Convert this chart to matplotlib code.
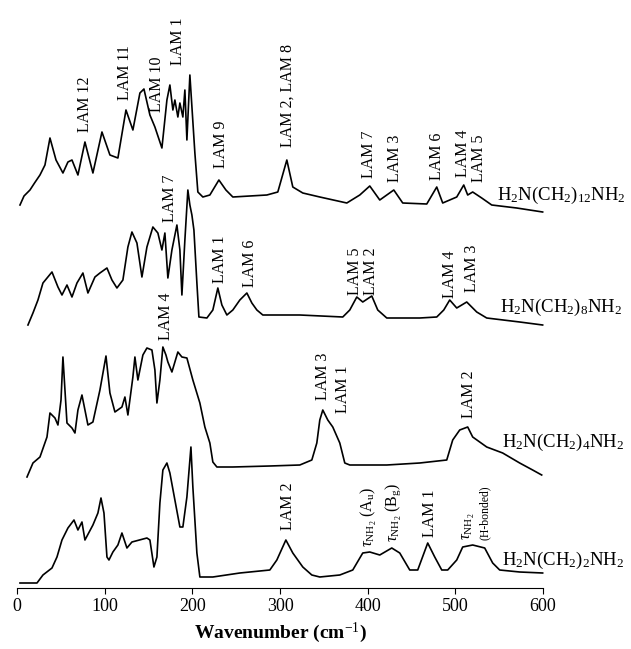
import matplotlib
matplotlib.use("Agg")
import matplotlib.pyplot as plt

plt.rcParams['font.family'] = ['Liberation Serif', 'DejaVu Serif']
plt.rcParams['mathtext.fontset'] = 'custom'
plt.rcParams['mathtext.rm'] = 'Liberation Serif'
plt.rcParams['mathtext.it'] = 'Liberation Serif:italic'

# spectra (wavenumber, offset intensity)
wn_c12 = [3.4, 8.0, 14.8, 20.0, 26.2, 31.9, 37.6, 44.5, 52.4, 58.1, 62.7, 69.5, 77.5, 86.6, 96.9, 106.0,
          115.1, 124.3, 132.2, 140.2, 144.8, 151.6, 157.3, 165.3, 171.0, 174.4, 177.8, 180.1,
          183.5, 185.8, 189.2, 191.5, 193.8, 197.2, 202.9, 206.3, 212.0, 220.0, 230.3, 238.3,
          246.2, 285.0, 297.5, 307.8, 314.6, 326.0, 345.4, 376.2, 391.0, 402.4, 413.8, 429.8,
          440.0, 467.4, 478.8, 485.6, 501.6, 509.6, 514.1, 519.8, 530.1, 541.5, 570.0, 599.6]
int_c12 = [383, 392, 398, 405, 413, 423, 450, 428, 415, 426, 428, 413, 446, 415, 456, 433,
           430, 478, 458, 495, 499, 473, 461, 440, 488, 503, 478, 488,
           471, 485, 471, 498, 448, 513, 435, 396, 391, 393, 408, 398,
           391, 393, 396, 428, 401, 395, 391, 385, 393, 402, 388, 398,
           385, 384, 401, 385, 391, 403, 393, 396, 390, 383, 380, 376]

wn_c8 = [12.5, 18.2, 23.9, 29.6, 39.9, 46.7, 51.3, 57.0, 62.7, 68.4, 75.2, 80.9, 88.9, 94.6,
         102.6, 108.3, 114.0, 120.8, 126.5, 131.1, 136.8, 142.5, 148.2, 155.0, 160.7, 165.3,
         168.7, 172.1, 176.7, 182.4, 185.8, 188.1, 191.5, 194.9, 197.2, 199.5, 201.8, 205.2,
         207.5, 216.6, 223.4, 229.1, 233.7, 239.4, 246.2, 254.2, 262.2, 267.9, 273.6, 280.4,
         322.6, 371.6, 379.6, 387.6, 394.4, 404.7, 411.5, 421.8, 459.4, 478.8, 486.8, 493.6,
         501.6, 513.0, 524.4, 535.8, 573.4, 599.6]
int_c8 = [263, 275, 288, 305, 316, 301, 293, 303, 291, 305, 315, 295, 311, 315,
          320, 308, 300, 308, 341, 356, 345, 311, 341, 361, 355, 338,
          355, 310, 338, 363, 338, 293, 348, 398, 383, 373, 358, 305,
          271, 270, 278, 300, 283, 273, 278, 288, 295, 285, 278, 273,
          273, 271, 278, 291, 286, 292, 278, 270, 270, 271, 278, 288,
          280, 286, 276, 270, 266, 263]

wn_c4 = [11.4, 18.2, 26.2, 34.2, 37.6, 43.3, 46.7, 50.2, 52.4, 54.7, 57.0, 62.7, 66.1, 69.5,
         74.1, 77.5, 80.9, 86.6, 94.6, 101.5, 106.0, 111.7, 119.7, 123.1, 126.5, 132.2,
         134.5, 137.9, 143.6, 148.2, 153.9, 157.3, 159.6, 163.0, 166.4, 169.9, 172.1, 176.7,
         183.5, 188.1, 193.8, 200.6, 208.6, 214.3, 220.0, 223.4, 228.0, 246.2, 288.4, 322.6,
         336.3, 342.0, 345.4, 348.8, 354.5, 360.2, 368.2, 373.9, 379.6, 421.8, 459.4, 490.2,
         497.0, 505.0, 514.1, 519.8, 535.8, 554.0, 573.4, 588.2, 598.5]
int_c4 = [111, 125, 131, 151, 175, 170, 163, 188, 231, 198, 165, 160, 155, 178,
          193, 178, 163, 166, 198, 232, 195, 176, 181, 191, 173, 211,
          231, 208, 233, 240, 238, 218, 185, 208, 241, 233, 226, 216,
          236, 231, 230, 208, 185, 161, 145, 126, 121, 121, 122, 123,
          128, 145, 168, 178, 168, 161, 145, 125, 123, 123, 125, 128,
          148, 158, 161, 151, 141, 135, 125, 118, 113]

wn_c2 = [3.4, 22.8, 29.6, 39.9, 45.6, 51.3, 58.1, 65.0, 69.5, 74.1, 77.5, 86.6, 92.3, 95.8,
         99.2, 102.6, 104.9, 109.4, 115.1, 119.7, 125.4, 131.1, 148.2, 151.6, 156.2, 159.6,
         163.0, 166.4, 171.0, 174.4, 180.1, 185.8, 189.2, 193.8, 198.4, 200.6, 205.2, 208.6,
         223.4, 254.2, 288.4, 296.4, 306.7, 314.6, 326.0, 336.3, 345.4, 368.2, 383.0, 394.4,
         402.4, 413.8, 427.5, 436.6, 448.0, 457.1, 468.5, 476.5, 484.5, 491.3, 501.6, 508.4,
         519.8, 533.5, 542.6, 550.6, 573.4, 599.6]
int_c2 = [5, 5, 13, 20, 31, 48, 60, 68, 58, 66, 48, 63, 75, 90,
          75, 31, 28, 36, 43, 55, 40, 46, 50, 48, 21, 31,
          85, 118, 125, 115, 88, 61, 61, 91, 141, 101, 35, 11,
          11, 15, 18, 28, 48, 35, 21, 13, 11, 13, 18, 35,
          36, 33, 40, 35, 18, 18, 45, 31, 18, 18, 28, 41,
          43, 40, 25, 18, 16, 15]

# band labels: text, wavenumber, bottom of text
lam_text = ['LAM 12', 'LAM 11', 'LAM 10', 'LAM 1', 'LAM 9', 'LAM 2, LAM 8',
            'LAM 7', 'LAM 3', 'LAM 6', 'LAM 4', 'LAM 5',
            'LAM 7', 'LAM 1', 'LAM 6', 'LAM 5', 'LAM 2', 'LAM 4', 'LAM 3',
            'LAM 4', 'LAM 3', 'LAM 1', 'LAM 2',
            'LAM 2', r'$\tau_{\mathrm{NH_2}}$ (A$_\mathrm{u}$)', r'$\tau_{\mathrm{NH_2}}$ (B$_\mathrm{g}$)',
            'LAM 1', r'$\tau_{\mathrm{NH_2}}$']
lam_x = [77.5, 123, 160, 183.5, 232.6, 309,
         402, 431, 479, 509, 527,
         174, 231, 265.6, 386, 404, 493.6, 518.7,
         170, 349, 371.6, 516,
         309, 402, 428.6,
         471, 516]
lam_y = [456, 488, 476, 523, 420, 441,
         410, 406, 408, 411, 406,
         366, 305, 301, 293, 293, 290, 296,
         248, 188, 175, 170,
         58, 41, 46,
         51, 48]

names = [r'H$_2$N(CH$_2$)$_{12}$NH$_2$', r'H$_2$N(CH$_2$)$_8$NH$_2$',
         r'H$_2$N(CH$_2$)$_4$NH$_2$', r'H$_2$N(CH$_2$)$_2$NH$_2$']
name_x = [547, 551, 553, 553]
name_y = [393, 281, 146, 28]

fig = plt.figure(figsize=(6.31, 6.49), dpi=100)
ax = fig.add_axes([17 / 631, 61 / 649, 526 / 631, 588 / 649])

for x, y in [(wn_c12, int_c12), (wn_c8, int_c8), (wn_c4, int_c4), (wn_c2, int_c2)]:
    ax.plot(x, y, color='black', lw=1.2, clip_on=False)

for t, x, y in zip(lam_text, lam_x, lam_y):
    ax.text(x, y, t, rotation=90, ha='center', va='bottom', fontsize=11.5)
ax.text(533.5, 48, '(H-bonded)', rotation=90, ha='center', va='bottom', fontsize=8.5)

for t, x, y in zip(names, name_x, name_y):
    ax.text(x, y, t, ha='left', va='center', fontsize=13.5)

ax.set_xlim(0, 600)
ax.set_ylim(0, 588)
ax.set_xticks(range(0, 601, 100))
ax.set_yticks([])
for s in ['left', 'right', 'top']:
    ax.spines[s].set_visible(False)
ax.tick_params(axis='x', labelsize=13, length=4, direction='out')
ax.set_xlabel('Wavenumber (cm$^{-1}$)', fontsize=14, fontweight='bold', labelpad=4)

fig.savefig('out.png', dpi=100)
